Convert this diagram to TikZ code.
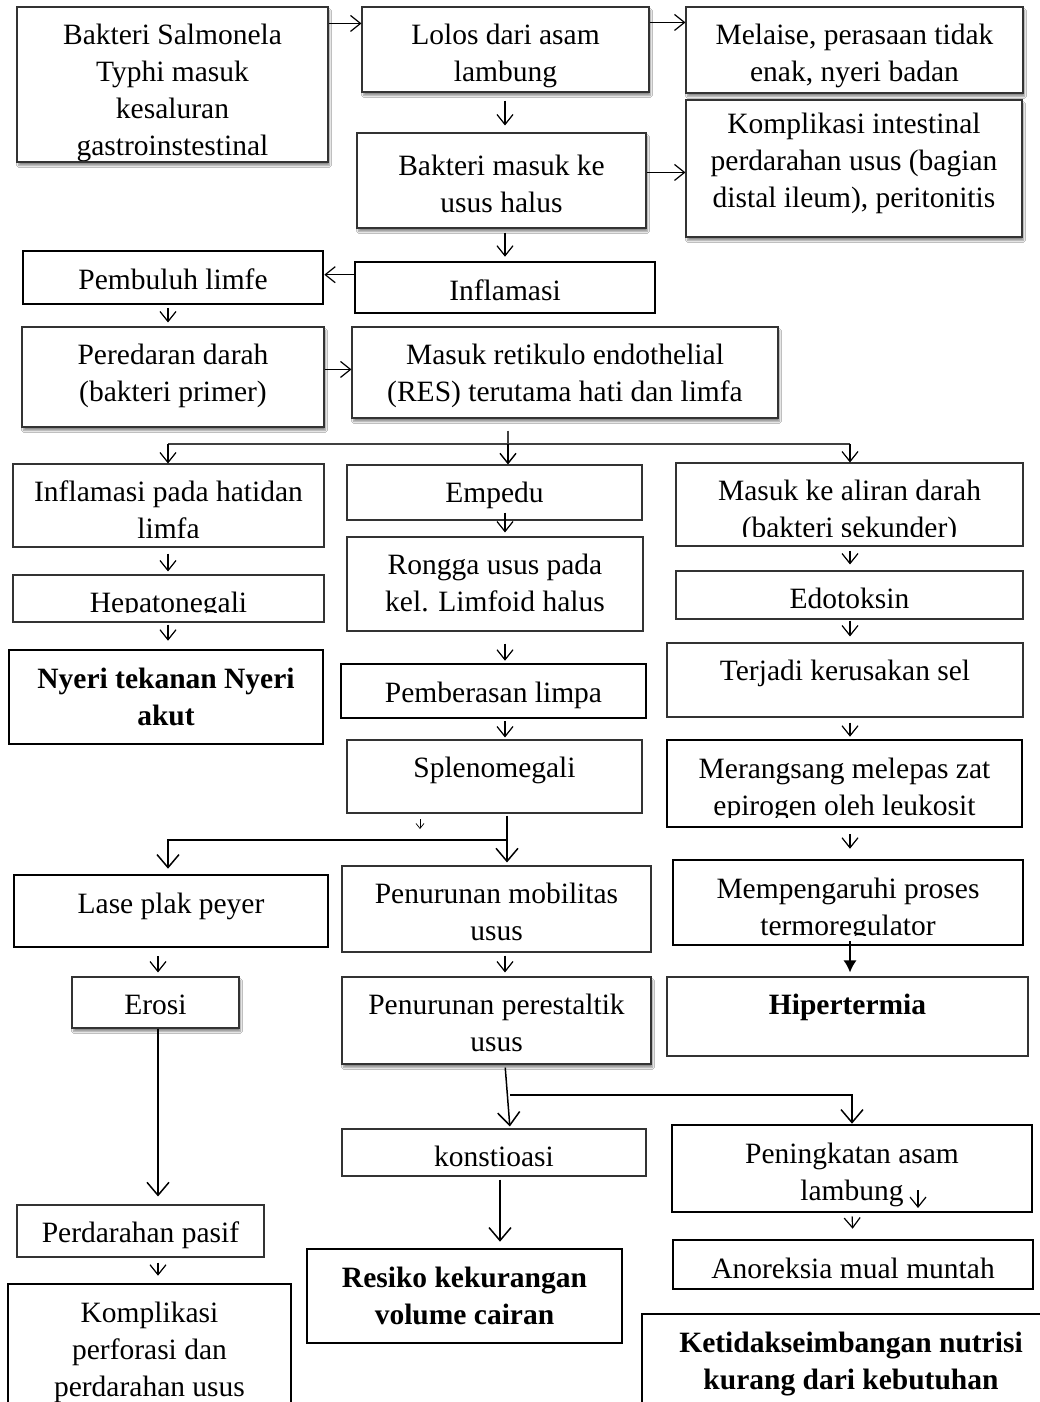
\documentclass[tikz,border=0pt]{standalone}
\usepackage{fontspec}
\setmainfont{Liberation Serif}
\usetikzlibrary{arrows.meta,calc,shadows.blur}
\newcommand{\fs}{\fontsize{29.5}{37}\selectfont}
\tikzset{
  >={Straight Barb[length=10pt,width=16pt]},
  tb/.store in=\tbase, tb=11pt,
  sz/.style 2 args={minimum width=#1pt,minimum height=#2pt},
  box/.style={draw=black!80,line width=1.1pt,fill=white,inner sep=0pt},
  boxb/.style={draw=black,line width=2.6pt,fill=white,inner sep=0pt},
  shd/.style={blur shadow={shadow xshift=1.5pt,shadow yshift=-3.5pt,
    shadow blur steps=6,shadow opacity=45}},
  txt/.style={font=\fs,align=center,inner sep=0pt,anchor=north,
    minimum width=0pt,minimum height=0pt},
  say/.style={path picture={\node[txt] at ([yshift=-\tbase]path picture bounding box.north) {\strut#1};}},
  sayb/.style={path picture={\node[txt,font=\fs\bfseries] at ([yshift=-\tbase]path picture bounding box.north) {\strut#1};}},
  sayc/.style={path picture={\clip ([yshift=10pt]path picture bounding box.south west) rectangle (path picture bounding box.north east);
    \node[txt] at ([yshift=-\tbase]path picture bounding box.north) {\strut#1};}},
  fl/.style={->,line width=1.2pt},
  lg/.style={-{Straight Barb[length=13pt,width=22pt]},line width=1.5pt},
  sf/.style={-{Latex[length=12pt,width=13pt]},line width=1.5pt},
  ln/.style={line width=1.6pt},
}
\begin{document}
\begin{tikzpicture}[x=1pt,y=-1pt]
  \useasboundingbox (0,0) rectangle (1040,1402);
  \fill[white] (0,0) rectangle (1040,1402);
  % column guides
  \coordinate (colL) at (168,0);
  \coordinate (colE) at (158,0);
  \coordinate (colM) at (505,0);
  \coordinate (colK) at (500,0);
  \coordinate (colR) at (850,0);

  % top rows
  \node[box,shd,sz={311}{155},say={Bakteri Salmonela\\Typhi masuk\\kesaluran\\gastroinstestinal}] (salmo) at (172.5,84.5) {};
  \node[box,shd,sz={287}{85},say={Lolos dari asam\\lambung}] (lolos) at (505.5,49.5) {};
  \node[box,shd,sz={337}{86},say={Melaise, perasaan tidak\\enak, nyeri badan}] (melaise) at (854.5,50) {};
  \node[box,shd,sz={289}{95},tb=16pt,say={Bakteri masuk ke\\usus halus}] (usus) at (501.5,180.5) {};
  \node[box,shd,sz={336}{137},tb=7pt,say={Komplikasi intestinal\\perdarahan usus (bagian\\distal ileum), peritonitis}] (intes) at (854,168.5) {};
  \node[boxb,sz={300}{53},say={Pembuluh limfe}] (limfe) at (173,277.5) {};
  \node[boxb,sz={300}{51},say={Inflamasi}] (inflam) at (505,287.5) {};
  \node[box,shd,sz={302}{100},say={Peredaran darah\\(bakteri primer)}] (darah) at (173,377) {};
  \node[box,shd,sz={426}{91},say={Masuk retikulo endothelial\\(RES) terutama hati dan limfa}] (res) at (565,372.5) {};

  % left column
  \node[box,sz={311}{83},sayc={Inflamasi pada hatidan\\limfa}] (hati) at (168.5,505.5) {};
  \node[box,sz={311}{47},sayc={Hepatonegali}] (hepato) at (168.5,598.5) {};
  \node[boxb,sz={314}{94},sayb={Nyeri tekanan Nyeri\\akut}] (nyeri) at (166,697) {};

  % middle column
  \node[box,sz={295}{55},say={Empedu}] (empedu) at (494.5,492.5) {};
  \node[box,sz={296}{94},say={Rongga usus pada\\kel. Limfoid halus}] (rongga) at (495,584) {};
  \node[boxb,sz={305}{54},say={Pemberasan limpa}] (limpa) at (493.5,691) {};
  \node[box,sz={295}{73},say={Splenomegali}] (spleno) at (494.5,776.5) {};

  % right column
  \node[box,sz={347}{83},sayc={Masuk ke aliran darah\\(bakteri sekunder)}] (aliran) at (849.5,504.5) {};
  \node[box,sz={347}{48},say={Edotoksin}] (toksin) at (849.5,595) {};
  \node[box,sz={356}{74},say={Terjadi kerusakan sel}] (sel) at (845,680) {};
  \node[boxb,sz={355}{87},sayc={Merangsang melepas zat\\epirogen oleh leukosit}] (zat) at (844.5,783.5) {};
  \node[boxb,sz={350}{85},sayc={Mempengaruhi proses\\termoregulator}] (termo) at (848,902.5) {};
  \node[box,sz={361}{79},sayb={Hipertermia}] (hiper) at (847.5,1016.5) {};

  % lower part
  \node[boxb,sz={314}{72},say={Lase plak peyer}] (lase) at (171,911) {};
  \node[box,shd,sz={167}{51},say={Erosi}] (erosi) at (155.5,1002.5) {};
  \node[box,sz={247}{52},say={Perdarahan pasif}] (pasif) at (140.5,1231) {};
  \node[boxb,sz={283}{136},say={Komplikasi\\perforasi dan\\perdarahan usus}] (perfo) at (149.5,1352) {};
  \node[box,sz={309}{86},say={Penurunan mobilitas\\usus}] (mobil) at (496.5,909) {};
  \node[box,shd,sz={309}{87},say={Penurunan perestaltik\\usus}] (peris) at (496.5,1020.5) {};
  \node[box,sz={304}{47},say={konstioasi}] (konst) at (494,1152.5) {};
  \node[boxb,sz={315}{94},sayb={Resiko kekurangan\\volume cairan}] (resiko) at (464.5,1296) {};
  \node[boxb,sz={360}{87},say={Peningkatan asam\\lambung}] (asam) at (852,1168.5) {};
  \node[boxb,sz={360}{49},sayc={Anoreksia mual muntah}] (anor) at (853,1264.5) {};
  \node[boxb,sz={418}{106},sayb={Ketidakseimbangan nutrisi\\kurang dari kebutuhan}] (nutri) at (851,1367) {};

  % side arrows
  \draw[fl] ([yshift=-17pt]salmo.north east) -- ([yshift=-17pt]lolos.north west);
  \draw[fl] ([yshift=-16pt]lolos.north east) -- ([yshift=-16pt]melaise.north west);
  \draw[fl] ([yshift=-40pt]usus.north east) -- ([yshift=-73pt]intes.north west);
  \draw[fl] ([yshift=-14pt]inflam.north west) -- ([yshift=-25pt]limfe.north east);
  \draw[fl] ([yshift=-43pt]darah.north east) -- ([yshift=-43pt]res.north west);

  % down arrows
  \draw[fl,shorten <=8pt,shorten >=7pt] (lolos.south -| colM) -- (usus.north -| colM);
  \draw[fl,shorten <=4pt,shorten >=4pt] (usus.south -| colM) -- (inflam.north -| colM);
  \draw[fl,shorten <=3pt,shorten >=4pt] (limfe.south -| colL) -- (darah.north -| colL);
  \draw[fl,shorten <=6pt,shorten >=3pt] (hati.south -| colL) -- (hepato.north -| colL);
  \draw[fl,shorten <=2pt,shorten >=8pt] (hepato.south -| colL) -- (nyeri.north -| colL);
  \draw[fl,shorten <=-8pt,shorten >=4pt] (empedu.south -| colM) -- (rongga.north -| colM);
  \draw[fl,shorten <=12pt,shorten >=2pt] (rongga.south -| colM) -- (limpa.north -| colM);
  \draw[fl,shorten <=2pt,shorten >=2pt] (limpa.south -| colM) -- (spleno.north -| colM);
  \draw[fl,shorten <=4pt,shorten >=6pt] (aliran.south -| colR) -- (toksin.north -| colR);
  \draw[fl,shorten <=1pt,shorten >=6pt] (toksin.south -| colR) -- (sel.north -| colR);
  \draw[fl,shorten <=5pt,shorten >=2pt] (sel.south -| colR) -- (zat.north -| colR);
  \draw[fl,shorten <=6pt,shorten >=10pt] (zat.south -| colR) -- (termo.north -| colR);
  \draw[sf,shorten <=-5pt,shorten >=4pt] (termo.south -| colR) -- (hiper.north -| colR);
  \draw[fl,shorten <=8pt,shorten >=4pt] (lase.south -| colE) -- (erosi.north -| colE);
  \draw[lg,shorten >=8pt] (erosi.south -| colE) -- (pasif.north -| colE);
  \draw[fl,shorten <=5pt,shorten >=7pt] (pasif.south -| colE) -- (perfo.north -| colE);
  \draw[fl,shorten <=3pt,shorten >=4pt] (mobil.south -| colM) -- (peris.north -| colM);
  \draw[lg,shorten <=3pt,shorten >=6pt] (konst.south -| colK) -- (resiko.north -| colK);
  \draw[fl,shorten <=3pt,shorten >=10pt] (asam.south) -- (anor.north);

  % branch below RES
  \coordinate (b1) at (508,444);
  \draw[ln,black!75,shorten <=12pt] (res.south -| b1) -- (b1);
  \draw[ln,black!75] (b1 -| colL) -- (b1 -| colR);
  \draw[fl] (b1 -| colL) -- (hati.north -| colL);
  \draw[fl,line width=1.4pt] (b1) -- (empedu.north -| b1);
  \draw[fl] (b1 -| colR) -- (aliran.north -| colR);

  % branch below Splenomegali
  \coordinate (b2) at (507,840);
  \draw[lg,shorten <=2pt,shorten >=3pt] (spleno.south -| b2) -- (mobil.north -| b2);
  \draw[lg,shorten >=5pt] (b2) -| (lase.north -| colL);

  % branch below perestaltik
  \coordinate (b3) at (510,1095);
  \draw[lg,shorten <=3pt,shorten >=2pt] (peris.south -| colM) -- (konst.north -| b3);
  \draw[lg] (b3) -| (asam.north);

  % stray marks
  \coordinate (s1) at (420,819);
  \coordinate (s2) at (420,829);
  \draw[-{Straight Barb[length=5pt,width=8pt]},line width=0.7pt] (s1) -- (s2);
  \coordinate (s3) at (918,1190);
  \coordinate (s4) at (918,1208);
  \draw[fl] (s3) -- (s4);
\end{tikzpicture}
\end{document}
